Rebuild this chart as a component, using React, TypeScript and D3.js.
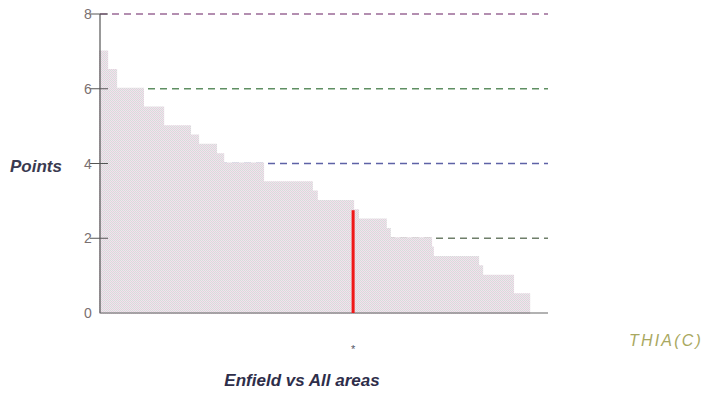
import React from "react";
import * as d3 from "d3";

// Staircase: start rank of each step and its score (sorted areas)
const stepStarts = [0, 1.6, 3.6, 9.6, 14.1, 20.1, 21.9, 25.9, 27.5, 36.4, 47.3, 48.4, 56.5, 57.6, 63.8, 64.7, 73.9, 74.3, 84.4, 85.3, 92.2];
const stepValues = [7, 6.5, 6, 5.5, 5, 4.75, 4.5, 4.25, 4, 3.5, 3.25, 3, 2.75, 2.5, 2.25, 2, 1.75, 1.5, 1.25, 1, 0.5];
const lastRank = 95.8;
const highlightRank = 56.5;
const highlightValue = 2.75;
const yTicks = [0, 2, 4, 6, 8];
const gridValues = [8, 6, 4, 2];
const gridColors = ["#9a6a96", "#5f8f62", "#5e62a6", "#6f7f6a"];
const yLabel = "Points";
const xLabel = "THIA(C)";
const title = "Enfield vs All areas";

export default function App() {
  const W = 706, H = 394;
  const x = d3.scaleLinear().domain([0, 100]).range([100, 548]);
  const y = d3.scaleLinear().domain([0, 8]).range([313, 14]);

  const pts: [number, number][] = stepStarts.map((r, i) => [r, stepValues[i]]);
  pts.push([lastRank, stepValues[stepValues.length - 1]]);
  const area = d3.area<[number, number]>()
    .x(d => x(d[0]))
    .y0(y(0))
    .y1(d => y(d[1]))
    .curve(d3.curveStepAfter);

  const font = "'Liberation Sans', Arial, sans-serif";

  return (
    <svg width={W} height={H} style={{ position: "absolute", left: 0, top: 0, background: "#fff" }}>
      <defs>
        <pattern id="dith" width="2" height="2" patternUnits="userSpaceOnUse">
          <rect width="2" height="2" fill="#eee6ec" />
          <rect width="1" height="1" fill="#d7dbdb" />
          <rect x="1" y="1" width="1" height="1" fill="#e2d2dd" />
        </pattern>
      </defs>
      {gridValues.map((v, i) => (
        <line key={v} x1={x(0)} x2={x(100)} y1={y(v)} y2={y(v)}
          stroke={gridColors[i]} strokeWidth={1.6} strokeDasharray="7,5" />
      ))}
      <path d={area(pts) || ""} fill="url(#dith)" stroke="url(#dith)" strokeWidth={2} />
      {/* axes */}
      <line x1={x(0)} x2={x(0)} y1={y(8)} y2={y(0)} stroke="#555" strokeWidth={1.2} />
      <line x1={x(0)} x2={x(100)} y1={y(0)} y2={y(0)} stroke="#666" strokeWidth={1.2} />
      {yTicks.map(t => (
        <g key={t}>
          {t > 0 && <line x1={x(0) - 10} x2={x(0) + 8} y1={y(t)} y2={y(t)} stroke="#555" strokeWidth={1} />}
          <text x={88} y={y(t)} dy="0.36em" textAnchor="middle" fontFamily={font} fontSize={14} fill="#7a7070">{t}</text>
        </g>
      ))}
      <line x1={x(highlightRank)} x2={x(highlightRank)} y1={y(highlightValue)} y2={y(0)} stroke="#f01818" strokeWidth={3} />
      <text x={10} y={172} fontFamily={font} fontSize={17} fontWeight="bold" fontStyle="italic" fill="#3a3a50">{yLabel}</text>
      <text x={629} y={346} fontFamily={font} fontSize={16} fontStyle="italic" fill="#a9a860" letterSpacing="2.2">{xLabel}</text>
      <text x={x(highlightRank)} y={353} textAnchor="middle" fontFamily={font} fontSize={11} fill="#556">*</text>
      <text x={302} y={386} textAnchor="middle" fontFamily={font} fontSize={17} fontWeight="bold" fontStyle="italic" fill="#2e2e4a">{title}</text>
    </svg>
  );
}
